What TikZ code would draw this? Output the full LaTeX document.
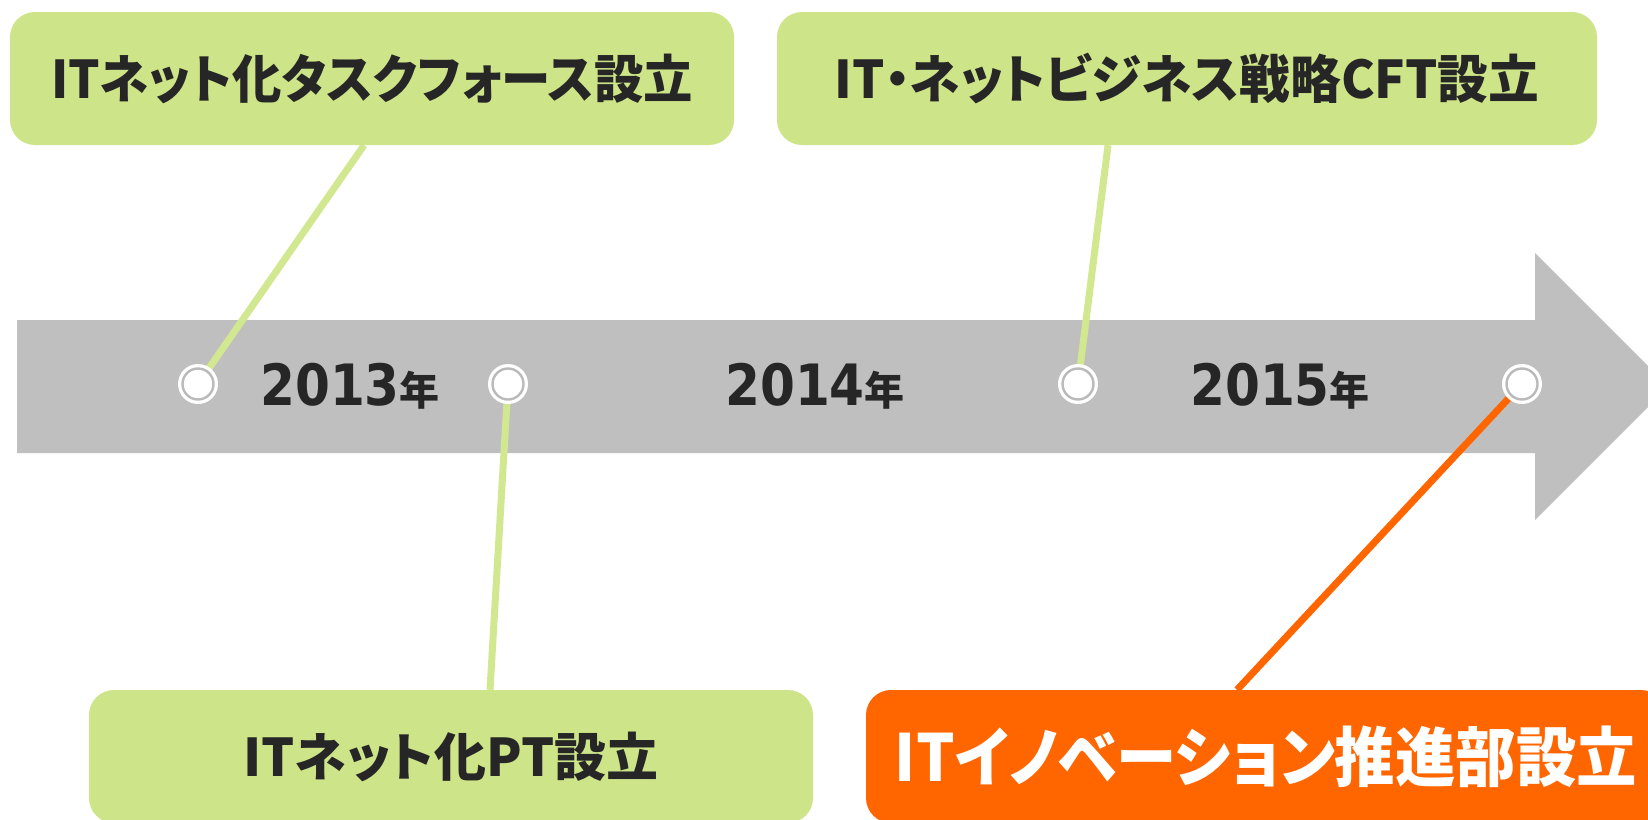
\documentclass[tikz,border=0pt]{standalone}
\usepackage{fontspec}
\newfontfamily\jpfont[RawFeature=+palt]{Noto Sans CJK JP}
\newfontfamily\jpfontA[RawFeature=+palt,FakeStretch=0.95]{Noto Sans CJK JP}
\newfontfamily\jpfontB[RawFeature=+palt,FakeStretch=0.975]{Noto Sans CJK JP}
\newfontfamily\jpfontD[RawFeature=+palt,FakeStretch=0.93]{Noto Sans CJK JP}
\newfontfamily\yrfont[FakeStretch=0.88]{DejaVu Sans}
\definecolor{boxgreen}{HTML}{CDE488}
\definecolor{linegreen}{HTML}{D2E890}
\definecolor{orng}{HTML}{FF6600}
\definecolor{arrowgray}{HTML}{BFBFBF}
\definecolor{ringgray}{HTML}{BABABA}
\definecolor{txt}{HTML}{262626}
\pgfdeclarelayer{arrowlayer}
\pgfdeclarelayer{linelayer}
\pgfsetlayers{arrowlayer,linelayer,main}
\tikzset{
  gbox/.style={fill=boxgreen, rounded corners=25pt, inner sep=0pt, minimum height=133pt, text=txt},
  obox/.style={fill=orng, rounded corners=25pt, inner sep=0pt, minimum height=133pt, text=white},
  dot/.style={circle, fill=white, minimum size=40pt, inner sep=0pt,
    path picture={\draw[ringgray, line width=2.4pt] (path picture bounding box.center) circle (15.5pt);}},
  gline/.style={draw=linegreen, line width=7pt},
  oline/.style={draw=orng, line width=7pt},
  yr/.style={text=txt, inner sep=0pt, anchor=base},
}
\newcommand{\yearlabel}[1]{{\yrfont\bfseries\fontsize{57}{64}\selectfont #1}{\jpfont\bfseries\fontsize{40}{48}\selectfont 年}}
\begin{document}
\begin{tikzpicture}[x=1pt, y=-1pt]
\useasboundingbox (0,0) rectangle (1648,819);
\begin{pgfonlayer}{arrowlayer}
  \fill[white] (0,0) rectangle (1648,819);
  \fill[arrowgray] (17,320) -- (1535,320) -- (1535,253) -- (1668.5,386.5) -- (1535,520) -- (1535,453) -- (17,453) -- cycle;
\end{pgfonlayer}

% boxes
\node[gbox, minimum width=724pt, font=\jpfontA\bfseries\fontsize{52}{60}\selectfont] (b1) at (372,78.5) {ITネット化タスクフォース設立};
\node[gbox, minimum width=820pt, font=\jpfontB\bfseries\fontsize{52}{60}\selectfont] (b2) at (1187,78.5) {IT・ネットビジネス戦略CFT設立};
\node[gbox, minimum width=724pt, font=\jpfont\bfseries\fontsize{52}{60}\selectfont] (b3) at (451,756.5) {ITネット化PT設立};
\node[obox, minimum width=800pt, font=\jpfontD\bfseries\fontsize{65}{75}\selectfont] (b4) at (1266,756.5) {ITイノベーション推進部設立};

% year labels
\node[yr] (y1) at (350,405) {\yearlabel{2013}};
\node[yr] (y2) at (815,405) {\yearlabel{2014}};
\node[yr] (y3) at (1280,405) {\yearlabel{2015}};

% milestone dots
\node[dot] (c1) at (198,384) {};
\node[dot] (c2) at (508,384) {};
\node[dot] (c3) at (1078,384) {};
\node[dot] (c4) at (1522,384) {};

% connectors
\begin{pgfonlayer}{linelayer}
  \draw[gline] ([xshift=-8pt]b1.south) -- (c1.center);
  \draw[gline] ([xshift=-79pt]b2.south) -- (c3.center);
  \draw[gline] ([xshift=39pt]b3.north) -- (c2.center);
  \draw[oline] ([xshift=-29pt]b4.north) -- (c4.center);
\end{pgfonlayer}
\end{tikzpicture}
\end{document}
